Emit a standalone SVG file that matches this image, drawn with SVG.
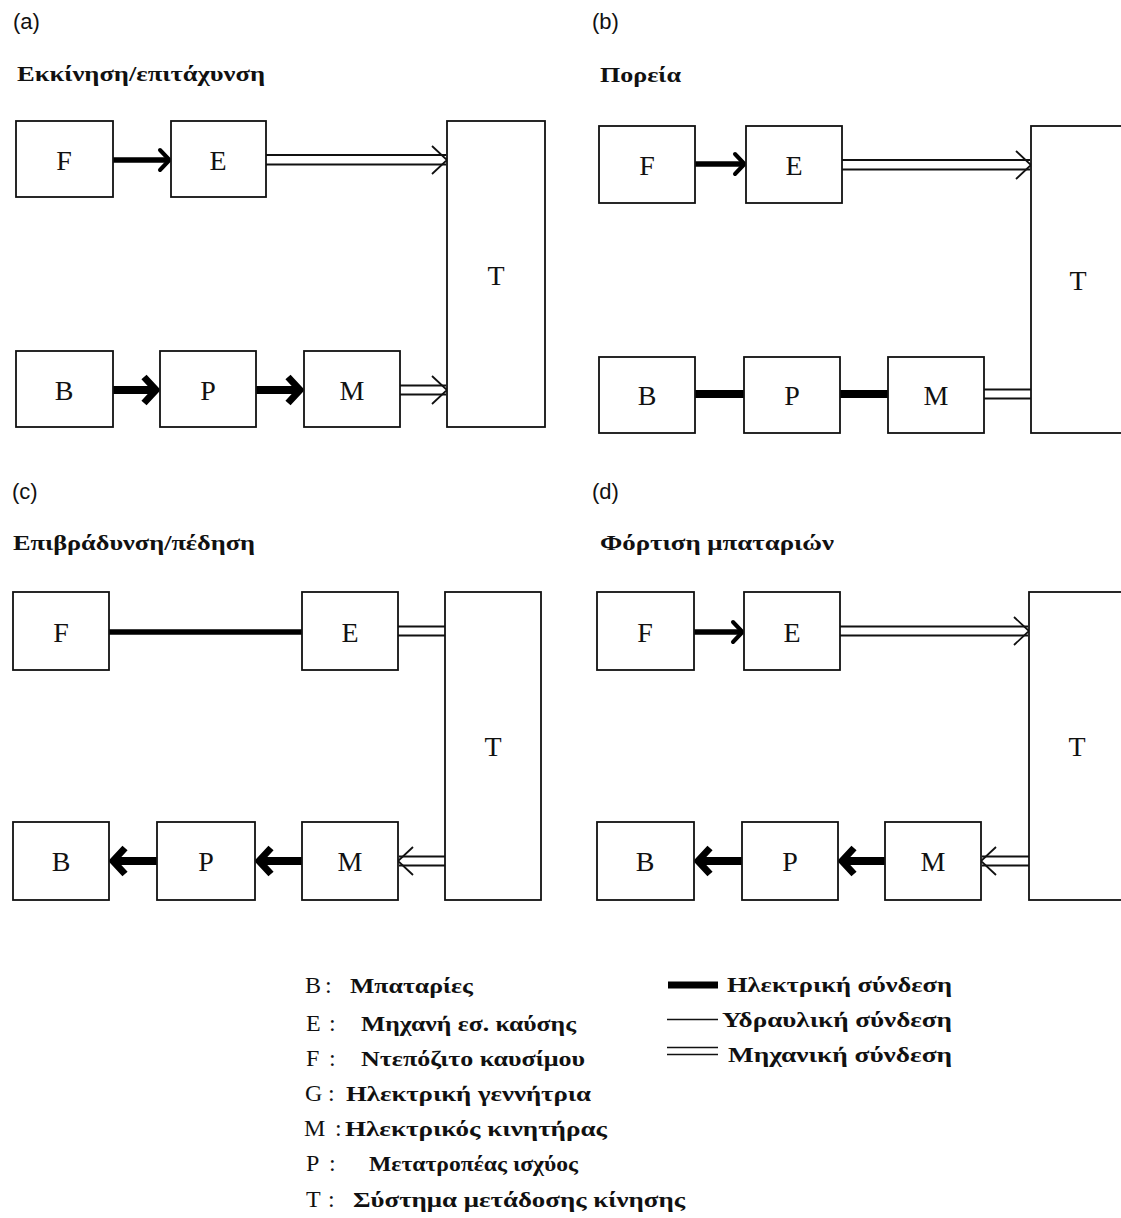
<svg xmlns="http://www.w3.org/2000/svg" xmlns:xlink="http://www.w3.org/1999/xlink" width="1121" height="1218" viewBox="0 0 1121 1218">
  <style>
    .box { fill: #fff; stroke: #111; stroke-width: 1.8; }
    .lbl { font-family: "Liberation Serif", "Times New Roman", serif; font-size: 28px; fill: #111; text-anchor: middle; dominant-baseline: central; }
    .tag { font-family: "Liberation Sans", Arial, sans-serif; font-size: 22px; fill: #111; }
    .title { font-family: "Liberation Serif", "Times New Roman", serif; font-size: 21px; font-weight: bold; fill: #111; }
    .key { font-family: "Liberation Serif", "Times New Roman", serif; font-size: 24px; fill: #111; }
    .desc { font-family: "Liberation Serif", "Times New Roman", serif; font-size: 20px; font-weight: bold; fill: #111; }
    .fuel { stroke: #000; stroke-width: 5.5; fill: none; }
    .elec { stroke: #000; stroke-width: 8; fill: none; }
    .mech { stroke: #111; stroke-width: 1.8; fill: none; }
    .hyd { stroke: #111; stroke-width: 1.6; fill: none; }
    .chev-fuel { stroke: #000; stroke-width: 4; fill: none; stroke-linecap: round; stroke-linejoin: round; }
    .chev-elec { stroke: #000; stroke-width: 7; fill: none; stroke-linecap: butt; stroke-linejoin: miter; }
    .chev-mech { stroke: #111; stroke-width: 1.8; fill: none; }
  </style>
  <defs>
    <!-- arrowheads, tip at origin, pointing +x -->
    <path id="ah-fuel" class="chev-fuel" d="M-11,-10 L-1.5,0 L-11,10"/>
    <path id="ah-elec" class="chev-elec" d="M-16,-13 L-4,0 L-16,13"/>
    <path id="ah-mech" class="chev-mech" d="M-15,-14 L0,0 L-15,14"/>
  </defs>
  <rect width="1121" height="1218" fill="#fff"/>

  <!-- ===== (a) start / acceleration ===== -->
  <g id="panel-a">
    <text class="tag" x="13" y="29">(a)</text>
    <text class="title" x="17" y="81" textLength="248" lengthAdjust="spacingAndGlyphs">Εκκίνηση/επιτάχυνση</text>
    <g id="a-connectors">
      <line class="fuel" x1="113" y1="160" x2="168" y2="160"/>
      <use xlink:href="#ah-fuel" transform="translate(171,160)"/>
      <line class="mech" x1="266" y1="155" x2="446" y2="155"/>
      <line class="mech" x1="266" y1="164.5" x2="446" y2="164.5"/>
      <use xlink:href="#ah-mech" transform="translate(447,160)"/>
      <line class="elec" x1="113" y1="390" x2="154" y2="390"/>
      <use xlink:href="#ah-elec" transform="translate(160,390)"/>
      <line class="elec" x1="256" y1="390" x2="298" y2="390"/>
      <use xlink:href="#ah-elec" transform="translate(304,390)"/>
      <line class="mech" x1="400" y1="385.5" x2="446" y2="385.5"/>
      <line class="mech" x1="400" y1="394.5" x2="446" y2="394.5"/>
      <use xlink:href="#ah-mech" transform="translate(447,390)"/>
    </g>
    <g id="a-F"><rect class="box" x="16" y="121" width="97" height="76"/><text class="lbl" x="64" y="160">F</text></g>
    <g id="a-E"><rect class="box" x="171" y="121" width="95" height="76"/><text class="lbl" x="218" y="160">E</text></g>
    <g id="a-T"><rect class="box" x="447" y="121" width="98" height="306"/><text class="lbl" x="496" y="275">T</text></g>
    <g id="a-B"><rect class="box" x="16" y="351" width="97" height="76"/><text class="lbl" x="64" y="390">B</text></g>
    <g id="a-P"><rect class="box" x="160" y="351" width="96" height="76"/><text class="lbl" x="208" y="390">P</text></g>
    <g id="a-M"><rect class="box" x="304" y="351" width="96" height="76"/><text class="lbl" x="352" y="390">M</text></g>
  </g>

  <!-- ===== (b) cruising ===== -->
  <g id="panel-b">
    <text class="tag" x="592" y="29">(b)</text>
    <text class="title" x="600" y="82" textLength="81" lengthAdjust="spacingAndGlyphs">Πορεία</text>
    <g id="b-connectors">
      <line class="fuel" x1="695" y1="164" x2="743" y2="164"/>
      <use xlink:href="#ah-fuel" transform="translate(746,164)"/>
      <line class="mech" x1="842" y1="160" x2="1030" y2="160"/>
      <line class="mech" x1="842" y1="169.5" x2="1030" y2="169.5"/>
      <use xlink:href="#ah-mech" transform="translate(1031,165)"/>
      <line class="elec" x1="695" y1="394" x2="744" y2="394"/>
      <line class="elec" x1="840" y1="394" x2="888" y2="394"/>
      <line class="mech" x1="984" y1="389.5" x2="1031" y2="389.5"/>
      <line class="mech" x1="984" y1="398.5" x2="1031" y2="398.5"/>
    </g>
    <g id="b-F"><rect class="box" x="599" y="126" width="96" height="77"/><text class="lbl" x="647" y="165">F</text></g>
    <g id="b-E"><rect class="box" x="746" y="126" width="96" height="77"/><text class="lbl" x="794" y="165">E</text></g>
    <g id="b-T"><rect class="box" x="1031" y="126" width="130" height="307"/><text class="lbl" x="1078" y="280">T</text></g>
    <g id="b-B"><rect class="box" x="599" y="357" width="96" height="76"/><text class="lbl" x="647" y="395">B</text></g>
    <g id="b-P"><rect class="box" x="744" y="357" width="96" height="76"/><text class="lbl" x="792" y="395">P</text></g>
    <g id="b-M"><rect class="box" x="888" y="357" width="96" height="76"/><text class="lbl" x="936" y="395">M</text></g>
  </g>

  <!-- ===== (c) deceleration / braking ===== -->
  <g id="panel-c">
    <text class="tag" x="12" y="499">(c)</text>
    <text class="title" x="13" y="550" textLength="242" lengthAdjust="spacingAndGlyphs">Επιβράδυνση/πέδηση</text>
    <g id="c-connectors">
      <line class="fuel" x1="109" y1="632" x2="302" y2="632"/>
      <line class="mech" x1="398" y1="626.5" x2="445" y2="626.5"/>
      <line class="mech" x1="398" y1="635.5" x2="445" y2="635.5"/>
      <line class="mech" x1="399" y1="856.5" x2="445" y2="856.5"/>
      <line class="mech" x1="399" y1="865.5" x2="445" y2="865.5"/>
      <use xlink:href="#ah-mech" transform="translate(398,861) scale(-1,1)"/>
      <line class="elec" x1="261" y1="861" x2="302" y2="861"/>
      <use xlink:href="#ah-elec" transform="translate(255,861) scale(-1,1)"/>
      <line class="elec" x1="115" y1="861" x2="157" y2="861"/>
      <use xlink:href="#ah-elec" transform="translate(109,861) scale(-1,1)"/>
    </g>
    <g id="c-F"><rect class="box" x="13" y="592" width="96" height="78"/><text class="lbl" x="61" y="632">F</text></g>
    <g id="c-E"><rect class="box" x="302" y="592" width="96" height="78"/><text class="lbl" x="350" y="632">E</text></g>
    <g id="c-T"><rect class="box" x="445" y="592" width="96" height="308"/><text class="lbl" x="493" y="746">T</text></g>
    <g id="c-B"><rect class="box" x="13" y="822" width="96" height="78"/><text class="lbl" x="61" y="861">B</text></g>
    <g id="c-P"><rect class="box" x="157" y="822" width="98" height="78"/><text class="lbl" x="206" y="861">P</text></g>
    <g id="c-M"><rect class="box" x="302" y="822" width="96" height="78"/><text class="lbl" x="350" y="861">M</text></g>
  </g>

  <!-- ===== (d) battery charging ===== -->
  <g id="panel-d">
    <text class="tag" x="592" y="499">(d)</text>
    <text class="title" x="600" y="550" textLength="234" lengthAdjust="spacingAndGlyphs">Φόρτιση μπαταριών</text>
    <g id="d-connectors">
      <line class="fuel" x1="694" y1="632" x2="741" y2="632"/>
      <use xlink:href="#ah-fuel" transform="translate(744,632)"/>
      <line class="mech" x1="840" y1="626.5" x2="1028" y2="626.5"/>
      <line class="mech" x1="840" y1="635.5" x2="1028" y2="635.5"/>
      <use xlink:href="#ah-mech" transform="translate(1029,631)"/>
      <line class="mech" x1="982" y1="856.5" x2="1029" y2="856.5"/>
      <line class="mech" x1="982" y1="865.5" x2="1029" y2="865.5"/>
      <use xlink:href="#ah-mech" transform="translate(981,861) scale(-1,1)"/>
      <line class="elec" x1="844" y1="861" x2="885" y2="861"/>
      <use xlink:href="#ah-elec" transform="translate(838,861) scale(-1,1)"/>
      <line class="elec" x1="700" y1="861" x2="742" y2="861"/>
      <use xlink:href="#ah-elec" transform="translate(694,861) scale(-1,1)"/>
    </g>
    <g id="d-F"><rect class="box" x="597" y="592" width="97" height="78"/><text class="lbl" x="645" y="632">F</text></g>
    <g id="d-E"><rect class="box" x="744" y="592" width="96" height="78"/><text class="lbl" x="792" y="632">E</text></g>
    <g id="d-T"><rect class="box" x="1029" y="592" width="130" height="308"/><text class="lbl" x="1077" y="746">T</text></g>
    <g id="d-B"><rect class="box" x="597" y="822" width="97" height="78"/><text class="lbl" x="645" y="861">B</text></g>
    <g id="d-P"><rect class="box" x="742" y="822" width="96" height="78"/><text class="lbl" x="790" y="861">P</text></g>
    <g id="d-M"><rect class="box" x="885" y="822" width="96" height="78"/><text class="lbl" x="933" y="861">M</text></g>
  </g>

  <!-- ===== key ===== -->
  <g id="legend-symbols">
    <text class="key" x="305" y="993">B</text><text class="key" x="325" y="993">:</text>
    <text class="desc" x="350" y="993" textLength="123" lengthAdjust="spacingAndGlyphs">Μπαταρίες</text>
    <text class="key" x="306" y="1031">E</text><text class="key" x="329" y="1031">:</text>
    <text class="desc" x="361" y="1031" textLength="215" lengthAdjust="spacingAndGlyphs">Μηχανή εσ. καύσης</text>
    <text class="key" x="306" y="1066">F</text><text class="key" x="329" y="1066">:</text>
    <text class="desc" x="361" y="1066" textLength="224" lengthAdjust="spacingAndGlyphs">Ντεπόζιτο καυσίμου</text>
    <text class="key" x="305" y="1101">G</text><text class="key" x="328" y="1101">:</text>
    <text class="desc" x="346" y="1101" textLength="245" lengthAdjust="spacingAndGlyphs">Ηλεκτρική γεννήτρια</text>
    <text class="key" x="304" y="1136">M</text><text class="key" x="335" y="1136">:</text>
    <text class="desc" x="345" y="1136" textLength="262" lengthAdjust="spacingAndGlyphs">Ηλεκτρικός κινητήρας</text>
    <text class="key" x="306" y="1171">P</text><text class="key" x="329" y="1171">:</text>
    <text class="desc" x="369" y="1171" textLength="209" lengthAdjust="spacingAndGlyphs">Μετατροπέας ισχύος</text>
    <text class="key" x="306" y="1207">T</text><text class="key" x="328" y="1207">:</text>
    <text class="desc" x="353" y="1207" textLength="332" lengthAdjust="spacingAndGlyphs">Σύστημα μετάδοσης κίνησης</text>
  </g>
  <g id="legend-lines">
    <line class="elec" x1="668" y1="985" x2="718" y2="985" style="stroke-width:7"/>
    <text class="desc" x="727" y="992" textLength="225" lengthAdjust="spacingAndGlyphs">Ηλεκτρική σύνδεση</text>
    <line class="hyd" x1="667" y1="1019.5" x2="718" y2="1019.5"/>
    <text class="desc" x="722" y="1027" textLength="230" lengthAdjust="spacingAndGlyphs">Υδραυλική σύνδεση</text>
    <line class="hyd" x1="667" y1="1047.5" x2="718" y2="1047.5"/>
    <line class="hyd" x1="667" y1="1054.5" x2="718" y2="1054.5"/>
    <text class="desc" x="728" y="1062" textLength="224" lengthAdjust="spacingAndGlyphs">Μηχανική σύνδεση</text>
  </g>
</svg>
